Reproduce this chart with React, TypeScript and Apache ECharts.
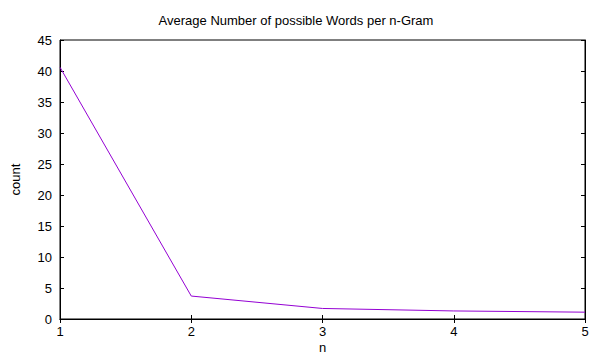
import React, { useEffect, useRef } from "react";
import * as echarts from "echarts";

const nValues = [1, 2, 3, 4, 5];
const counts = [40.6, 3.7, 1.7, 1.3, 1.1];
const titleText = "Average Number of possible Words per n-Gram";
const xName = "n";
const yName = "count";

export default function App() {
  const ref = useRef<HTMLDivElement>(null);
  useEffect(() => {
    if (!ref.current) return;
    const chart = echarts.init(ref.current, null, { renderer: "svg" });
    const font = "Liberation Sans, Arial, Helvetica, sans-serif";
    const axisLine = { show: true, lineStyle: { color: "#000", width: 1 } };
    const tick = { show: true, inside: true, length: 4, lineStyle: { color: "#000" } };
    chart.setOption({
      animation: false,
      backgroundColor: "#fff",
      title: {
        text: titleText,
        left: "center",
        top: 9,
        textStyle: { fontFamily: font, fontSize: 13, fontWeight: "normal", color: "#000" },
      },
      grid: {
        left: 60,
        right: 7,
        top: 40,
        bottom: 36,
        show: true,
        borderColor: "#000",
        borderWidth: 1,
        outerBoundsMode: "none",
        containLabel: false,
      },
      xAxis: [
        {
          type: "value",
          min: 1,
          max: 5,
          interval: 1,
          position: "bottom",
          name: xName,
          nameLocation: "middle",
          nameGap: 22,
          nameMoveOverlap: false,
          nameTextStyle: { fontFamily: font, fontSize: 13, color: "#000", lineHeight: 13 },
          axisLine,
          axisTick: tick,
          axisLabel: { fontFamily: font, fontSize: 13, color: "#000", margin: 6, showMaxLabel: true },
          splitLine: { show: false },
        },
        {
          type: "value",
          min: 1,
          max: 5,
          interval: 1,
          position: "top",
          axisLine,
          axisTick: tick,
          axisLabel: { show: false },
          splitLine: { show: false },
        },
      ],
      yAxis: [
        {
          type: "value",
          min: 0,
          max: 45,
          interval: 5,
          position: "left",
          name: yName,
          nameLocation: "middle",
          nameGap: 38,
          nameMoveOverlap: false,
          nameRotate: 90,
          nameTextStyle: { fontFamily: font, fontSize: 13, color: "#000" },
          axisLine,
          axisTick: tick,
          axisLabel: { fontFamily: font, fontSize: 13, color: "#000", margin: 8 },
          splitLine: { show: false },
        },
        {
          type: "value",
          min: 0,
          max: 45,
          interval: 5,
          position: "right",
          axisLine,
          axisTick: tick,
          axisLabel: { show: false },
          splitLine: { show: false },
        },
      ],
      series: [
        {
          type: "line",
          data: nValues.map((n, i) => [n, counts[i]]),
          showSymbol: false,
          symbol: "none",
          lineStyle: { color: "#9400d3", width: 1 },
          itemStyle: { color: "#9400d3" },
        },
      ],
    });
    return () => chart.dispose();
  }, []);
  return (
    <div
      ref={ref}
      style={{ position: "fixed", left: 0, top: 0, width: 592, height: 355 }}
    />
  );
}
